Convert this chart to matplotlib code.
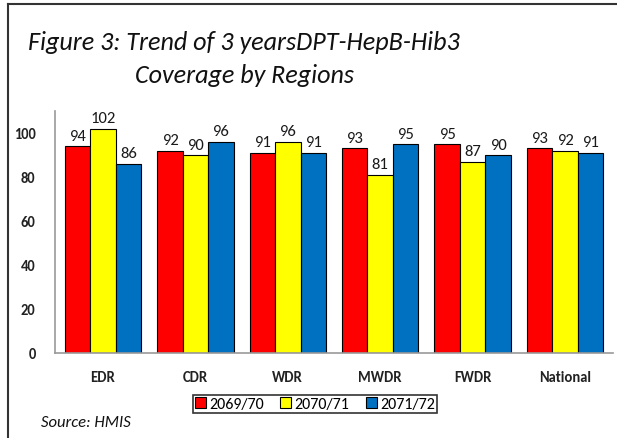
import numpy as np
import matplotlib
matplotlib.use("Agg")
import matplotlib.pyplot as plt
from matplotlib import font_manager

regions = ["EDR", "CDR", "WDR", "MWDR", "FWDR", "National"]
years = ["2069/70", "2070/71", "2071/72"]
cov_2069 = [94, 92, 91, 93, 95, 93]
cov_2070 = [102, 90, 96, 81, 87, 92]
cov_2071 = [86, 96, 91, 95, 90, 91]
colors = ["#FF0000", "#FFFF00", "#0070C0"]

# the original is in Calibri; Carlito has the same metrics
installed = {f.name for f in font_manager.fontManager.ttflist}
base = next((f for f in ["Carlito", "Lato"] if f in installed), "DejaVu Sans")
plt.rcParams["font.family"] = [base, "DejaVu Sans"]

fig = plt.figure(figsize=(6.17, 4.39), dpi=100)
ax = fig.add_axes([55 / 617, 1 - 354 / 439, (613 - 55) / 617, (354 - 112) / 439])

# frame around the figure (top and left visible)
fig.add_artist(plt.Line2D([8 / 617, 8 / 617], [0, 1 - 5 / 439], color="#333333", lw=1.5,
                          transform=fig.transFigure))
fig.add_artist(plt.Line2D([8 / 617, 1], [1 - 5 / 439, 1 - 5 / 439], color="#333333", lw=1.5,
                          transform=fig.transFigure))

x = np.arange(len(regions))
w = 0.275
for i, (vals, col) in enumerate(zip([cov_2069, cov_2070, cov_2071], colors)):
    bars = ax.bar(x + (i - 1) * w, vals, w, color=col, edgecolor="black", linewidth=0.8,
                  label=years[i])
    for b, v in zip(bars, vals):
        ax.text(b.get_x() + b.get_width() / 2, v + 1.5, str(v), ha="center", va="bottom",
                fontsize=12, color="#1a1a1a")

ax.set_xlim(-0.52, 5.52)
ax.set_ylim(0, 110)
ax.set_yticks([0, 20, 40, 60, 80, 100])
ax.set_xticks(x)
ax.set_xticklabels(regions)
ax.tick_params(length=0, labelsize=10.5, pad=12)
ax.tick_params(axis="y", pad=14)
for lab in ax.get_xticklabels() + ax.get_yticklabels():
    lab.set_fontweight("bold")
    lab.set_color("#222222")
for s in ["top", "right"]:
    ax.spines[s].set_visible(False)
for s in ["left", "bottom"]:
    ax.spines[s].set_color("#999999")
    ax.spines[s].set_linewidth(1.2)

t1 = fig.text(28 / 617, 1 - 50 / 439, "Figure 3: Trend of 3 yearsDPT-HepB-Hib3", fontsize=19,
              style="italic", va="baseline", ha="left", color="#111111")
t2 = fig.text(135 / 617, 1 - 83 / 439, "Coverage by Regions", fontsize=19,
              style="italic", va="baseline", ha="left", color="#111111")
# size the title so its first line spans the same width as in the original
r = fig.canvas.get_renderer()
size = 19 * 432 / t1.get_window_extent(r).width
size = min(max(size, 15), 21)
t1.set_fontsize(size)
t2.set_fontsize(size)

fig.text(41 / 617, 1 - 423 / 439, "Source: HMIS", fontsize=12, style="italic",
         va="center", ha="left", color="#111111")

leg = ax.legend(loc="center", bbox_to_anchor=((315 - 55) / 558, (354 - 405) / 242),
                ncol=3, frameon=True, fancybox=False, edgecolor="black", fontsize=11.5,
                handlelength=0.7, handleheight=0.7, handletextpad=0.2, columnspacing=1.0,
                borderpad=0.15)
leg.get_frame().set_linewidth(1.2)

fig.savefig("out.png", dpi=100)
